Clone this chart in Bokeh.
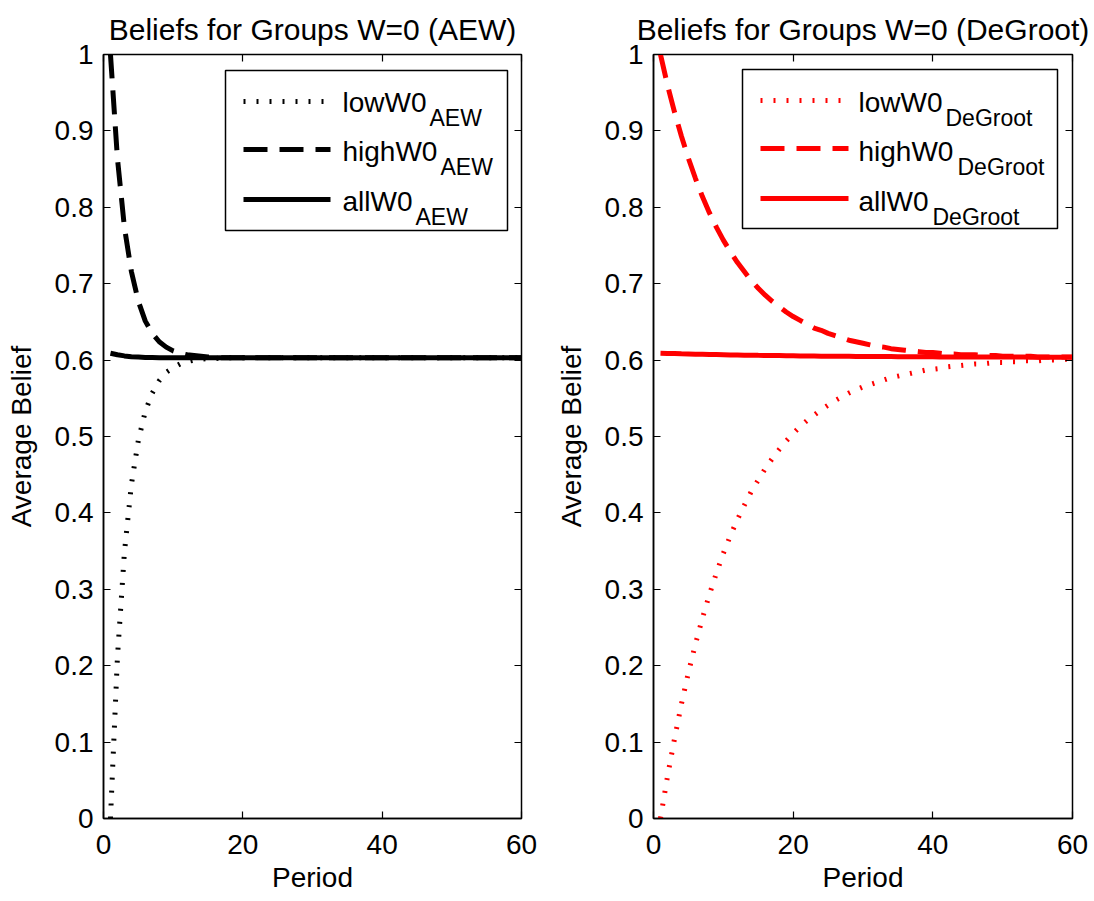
from bokeh.plotting import figure
from bokeh.models import Range1d, FixedTicker, LinearAxis, Label, BoxAnnotation
from bokeh.layouts import row
from bokeh.embed import file_html
from bokeh.resources import INLINE

# ---------------- data ----------------
periods = list(range(1, 61))

aew_low = [
    0.000, 0.211, 0.348, 0.437, 0.495, 0.533, 0.557, 0.573, 0.584, 0.590,
    0.595, 0.598, 0.600, 0.601, 0.602, 0.602, 0.603, 0.603, 0.603, 0.603,
    0.603, 0.603, 0.603, 0.603, 0.603, 0.603, 0.603, 0.603, 0.603, 0.603,
    0.603, 0.603, 0.603, 0.603, 0.603, 0.603, 0.603, 0.603, 0.603, 0.603,
    0.603, 0.603, 0.603, 0.603, 0.603, 0.603, 0.603, 0.603, 0.603, 0.603,
    0.603, 0.603, 0.603, 0.603, 0.603, 0.603, 0.603, 0.603, 0.603, 0.603,
]
aew_high = [
    1.000, 0.864, 0.774, 0.716, 0.677, 0.651, 0.635, 0.624, 0.617, 0.612,
    0.609, 0.607, 0.606, 0.605, 0.604, 0.604, 0.603, 0.603, 0.603, 0.603,
    0.603, 0.603, 0.603, 0.603, 0.603, 0.603, 0.603, 0.603, 0.603, 0.603,
    0.603, 0.603, 0.603, 0.603, 0.603, 0.603, 0.603, 0.603, 0.603, 0.603,
    0.603, 0.603, 0.603, 0.603, 0.603, 0.603, 0.603, 0.603, 0.603, 0.603,
    0.603, 0.603, 0.603, 0.603, 0.603, 0.603, 0.603, 0.603, 0.603, 0.603,
]
aew_all = [
    0.609, 0.607, 0.6055, 0.6045, 0.604, 0.6035, 0.6033, 0.6031, 0.603, 0.603,
    0.603, 0.603, 0.603, 0.603, 0.603, 0.603, 0.603, 0.603, 0.603, 0.603,
    0.603, 0.603, 0.603, 0.603, 0.603, 0.603, 0.603, 0.603, 0.603, 0.603,
    0.603, 0.603, 0.603, 0.603, 0.603, 0.603, 0.603, 0.603, 0.603, 0.603,
    0.603, 0.603, 0.603, 0.603, 0.603, 0.603, 0.603, 0.603, 0.603, 0.603,
    0.603, 0.603, 0.603, 0.603, 0.603, 0.603, 0.603, 0.603, 0.603, 0.603,
]
dg_low = [
    0.000, 0.055, 0.104, 0.150, 0.191, 0.228, 0.262, 0.293, 0.321, 0.347,
    0.370, 0.391, 0.410, 0.428, 0.443, 0.458, 0.471, 0.483, 0.494, 0.504,
    0.513, 0.521, 0.528, 0.535, 0.541, 0.547, 0.552, 0.557, 0.561, 0.565,
    0.568, 0.571, 0.574, 0.577, 0.579, 0.581, 0.583, 0.585, 0.587, 0.588,
    0.589, 0.591, 0.592, 0.593, 0.594, 0.595, 0.595, 0.596, 0.597, 0.597,
    0.598, 0.598, 0.599, 0.599, 0.599, 0.600, 0.600, 0.600, 0.601, 0.601,
]
dg_high = [
    1.000, 0.960, 0.925, 0.893, 0.864, 0.838, 0.814, 0.793, 0.774, 0.757,
    0.742, 0.728, 0.716, 0.704, 0.694, 0.685, 0.677, 0.670, 0.663, 0.657,
    0.652, 0.647, 0.642, 0.639, 0.635, 0.632, 0.629, 0.626, 0.624, 0.622,
    0.620, 0.618, 0.617, 0.615, 0.614, 0.613, 0.612, 0.611, 0.610, 0.610,
    0.609, 0.608, 0.608, 0.607, 0.607, 0.607, 0.606, 0.606, 0.606, 0.605,
    0.605, 0.605, 0.605, 0.605, 0.604, 0.604, 0.604, 0.604, 0.604, 0.604,
]
dg_all = [
    0.6090, 0.6087, 0.6085, 0.6082, 0.6080, 0.6078, 0.6076, 0.6074, 0.6072, 0.6070,
    0.6068, 0.6067, 0.6065, 0.6064, 0.6062, 0.6061, 0.6060, 0.6059, 0.6057, 0.6056,
    0.6055, 0.6054, 0.6053, 0.6052, 0.6052, 0.6051, 0.6050, 0.6049, 0.6048, 0.6048,
    0.6047, 0.6047, 0.6046, 0.6046, 0.6045, 0.6044, 0.6044, 0.6044, 0.6043, 0.6043,
    0.6042, 0.6042, 0.6042, 0.6041, 0.6041, 0.6041, 0.6040, 0.6040, 0.6040, 0.6039,
    0.6039, 0.6039, 0.6039, 0.6038, 0.6038, 0.6038, 0.6038, 0.6038, 0.6038, 0.6038,
]

x_ticks = [0, 20, 40, 60]
y_ticks = [0, 0.1, 0.2, 0.3, 0.4, 0.5, 0.6, 0.7, 0.8, 0.9, 1]
y_tick_labels = ["0", "0.1", "0.2", "0.3", "0.4", "0.5", "0.6", "0.7", "0.8", "0.9", "1"]

series_names = ["lowW0", "highW0", "allW0"]
titles = ["Beliefs for Groups W=0 (AEW)", "Beliefs for Groups W=0 (DeGroot)"]
subscripts = ["AEW", "DeGroot"]

FONT = "Liberation Sans"
FIG_W = 547
FIG_H = 901
FRAME_TOP = 54
FRAME_BOTTOM_BORDER = 83
STYLES = [dict(line_dash="2 11", line_cap="butt"),
          dict(line_dash="24 12", line_cap="butt"),
          dict()]


def make_panel(title, series, color, sub, border_left, border_right, legend_cfg):
    p = figure(width=FIG_W, height=FIG_H, x_range=Range1d(0, 60), y_range=Range1d(0, 1),
               output_backend="svg", toolbar_location=None, title=title,
               min_border_left=border_left, min_border_right=border_right,
               min_border_top=FRAME_TOP, min_border_bottom=FRAME_BOTTOM_BORDER)
    p.background_fill_color = "white"
    p.border_fill_color = "white"
    p.outline_line_color = "black"
    p.outline_line_width = 1.5
    p.xgrid.visible = False
    p.ygrid.visible = False

    p.title.text_font = FONT
    p.title.text_font_size = "30px"
    p.title.text_font_style = "normal"
    p.title.text_color = "black"
    p.title.align = "center"
    p.title.standoff = 17

    frame_w = FIG_W - border_left - border_right
    frame_h = FIG_H - FRAME_TOP - FRAME_BOTTOM_BORDER

    # pixel offsets (from the frame's top-left corner) -> data units
    def dx(px):
        return px / frame_w * 60

    def dy(py):
        return 1 - py / frame_h

    for ax in (p.xaxis[0], p.yaxis[0]):
        ax.major_tick_in = 7
        ax.major_tick_out = 0
        ax.minor_tick_line_color = None
        ax.major_tick_line_color = "black"
        ax.major_tick_line_width = 1.2
        ax.axis_line_color = "black"
        ax.axis_line_width = 1.5
        ax.major_label_text_font = FONT
        ax.major_label_text_font_size = "28px"
        ax.major_label_text_color = "black"
        ax.axis_label_text_font = FONT
        ax.axis_label_text_font_size = "28px"
        ax.axis_label_text_font_style = "normal"
        ax.axis_label_text_color = "black"

    p.xaxis.ticker = FixedTicker(ticks=x_ticks)
    p.xaxis.axis_label = "Period"
    p.xaxis.major_label_standoff = 16
    p.xaxis.axis_label_standoff = 5

    p.yaxis.ticker = FixedTicker(ticks=y_ticks)
    p.yaxis.major_label_overrides = {v: s for v, s in zip(y_ticks, y_tick_labels)}
    p.yaxis.axis_label = "Average Belief"
    p.yaxis.major_label_standoff = 10
    p.yaxis.axis_label_standoff = 15

    # mirrored ticks on top and right (MATLAB box), without labels
    top = LinearAxis(ticker=FixedTicker(ticks=x_ticks), major_label_text_font_size="1px",
                     major_label_overrides={v: "" for v in x_ticks},
                     major_label_standoff=0, major_tick_in=7, major_tick_out=0,
                     minor_tick_line_color=None, axis_line_color="black",
                     major_tick_line_width=1.2)
    right = LinearAxis(ticker=FixedTicker(ticks=y_ticks), major_label_text_font_size="1px",
                       major_label_overrides={v: "" for v in y_ticks},
                       major_label_standoff=0, major_tick_in=7, major_tick_out=0,
                       minor_tick_line_color=None, axis_line_color="black",
                       major_tick_line_width=1.2)
    p.add_layout(top, "above")
    p.add_layout(right, "right")

    # data curves
    for vals, st in zip(series, STYLES):
        p.line(periods, vals, line_color=color, line_width=5, **st)

    # legend (MATLAB style, with subscripted labels)
    box = legend_cfg["box"]
    p.add_layout(BoxAnnotation(left=dx(box[0]), right=dx(box[1]), top=dy(box[2]),
                               bottom=dy(box[3]), fill_color=None, line_color="black",
                               line_width=1.5, line_alpha=1.0))
    kx0, kx1 = legend_cfg["key_x"]
    for i, (name, st) in enumerate(zip(series_names, STYLES)):
        ky = legend_cfg["key_y"][i]
        p.line([dx(kx0), dx(kx1)], [dy(ky), dy(ky)], line_color=color, line_width=5, **st)
        p.add_layout(Label(x=dx(legend_cfg["text_x"]), y=dy(legend_cfg["text_y"][i]),
                           text=name, text_font=FONT, text_font_size="28px",
                           text_color="black", text_baseline="alphabetic", text_align="left"))
        p.add_layout(Label(x=dx(legend_cfg["sub_x"][i]), y=dy(legend_cfg["sub_y"][i]),
                           text=sub, text_font=FONT, text_font_size="23px",
                           text_color="black", text_baseline="alphabetic", text_align="left"))
    return p


# legend geometry in pixels from each frame's top-left corner
left_legend = dict(box=(122, 404, 16, 176), key_x=(140, 227), key_y=(47, 95, 145),
                   text_x=239, text_y=(48, 97, 147), sub_x=(326, 337, 312),
                   sub_y=(63, 112, 162))
right_legend = dict(box=(89, 404, 15, 174), key_x=(107, 195), key_y=(46, 94, 144),
                    text_x=205, text_y=(48, 97, 147), sub_x=(292, 304, 279),
                    sub_y=(63, 112, 162))

p1 = make_panel(titles[0], [aew_low, aew_high, aew_all], "black", subscripts[0],
                103, 26, left_legend)
p2 = make_panel(titles[1], [dg_low, dg_high, dg_all], "red", subscripts[1],
                106, 22, right_legend)

layout = row(p1, p2)
open("out.html", "w").write(file_html(layout, INLINE))
